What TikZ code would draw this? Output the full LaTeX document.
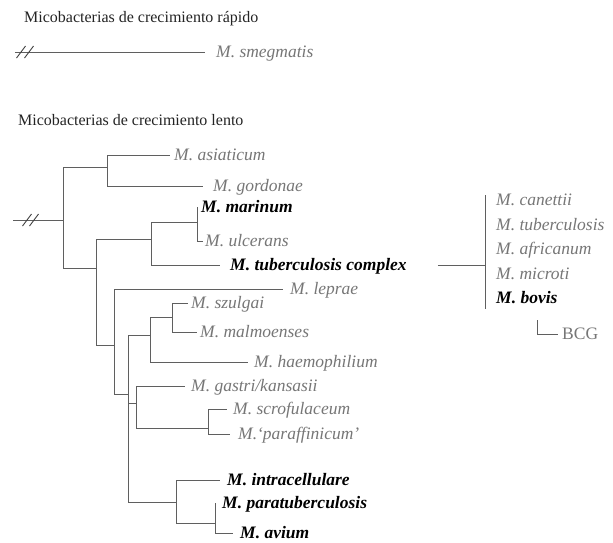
\documentclass[tikz,border=0pt]{standalone}
\usepackage{fontspec}
\setmainfont{Liberation Serif}
\definecolor{LineGray}{RGB}{95,95,95}
\definecolor{LeafGray}{RGB}{118,118,118}
\definecolor{HeadBlack}{RGB}{35,35,35}
\tikzset{
  branch/.style={LineGray, line width=0.9pt},
  leaf/.style={anchor=west, inner sep=0pt, inner xsep=5pt, text height=11.6pt, text depth=0pt,
    font=\fontsize{17.5}{20}\selectfont\itshape, text=LeafGray},
  boldleaf/.style={leaf, font=\fontsize{17.5}{20}\selectfont\bfseries\itshape, text=black},
  heading/.style={anchor=west, inner sep=0pt, text height=10.6pt, text depth=0pt,
    font=\fontsize{16}{19}\selectfont, text=HeadBlack},
}

\begin{document}
\begin{tikzpicture}[x=1pt, y=-1pt]
  \useasboundingbox (0,0) rectangle (613,542);

  % fast growers
  \node[heading] (fast) at (24,17) {Micobacterias de crecimiento rápido};
  \coordinate (fastroot) at (15,52);
  \node[leaf, inner xsep=11pt] (smeg) at (205,52) {M. smegmatis};
  \draw[branch] (fastroot) -- (smeg.west);
  \foreach \cx in {21,29} \draw[branch, black!75] (\cx-4.5,58) -- (\cx+4.5,46);

  % slow growers
  \node[heading] (slow) at (18,120) {Micobacterias de crecimiento lento};
  \coordinate (stub) at (13,220);
  \coordinate (root) at (63,220);
  \coordinate (nA) at (107,167);
  \coordinate (nB) at (96,268);
  \coordinate (nC) at (151,239);
  \coordinate (nD) at (197,222);
  \coordinate (nE) at (114,345);
  \coordinate (nF) at (128,394);
  \coordinate (nG) at (150,335);
  \coordinate (nH) at (172,317);
  \coordinate (nI) at (136,403);
  \coordinate (nJ) at (208,428);
  \coordinate (nK) at (176,502);
  \coordinate (nL) at (215,523);

  \node[leaf, inner xsep=4pt] (asia) at (170,155) {M. asiaticum};
  \node[leaf, inner xsep=10pt] (gord) at (203,186) {M. gordonae};
  \node[boldleaf, inner xsep=4pt] (mari) at (197,207) {M. marinum};
  \node[leaf, inner xsep=2pt] (ulce) at (203,241) {M. ulcerans};
  \node[boldleaf, inner xsep=10pt] (tbc) at (220,265) {M. tuberculosis complex};
  \node[leaf, inner xsep=7pt] (lepr) at (283,289) {M. leprae};
  \node[leaf, inner xsep=3pt] (szul) at (188,303) {M. szulgai};
  \node[leaf, inner xsep=3pt] (malm) at (197,332) {M. malmoenses};
  \node[leaf, inner xsep=6pt] (haem) at (248,362) {M. haemophilium};
  \node[leaf, inner xsep=6pt] (gast) at (185,386) {M. gastri/kansasii};
  \node[leaf, inner xsep=6pt] (scro) at (227,409) {M. scrofulaceum};
  \node[leaf, inner xsep=8pt] (para) at (230,434) {M.‘paraffinicum’};
  \node[boldleaf, inner xsep=7pt] (intr) at (220,480) {M. intracellulare};
  \node[boldleaf, inner xsep=7pt] (ptb) at (215,503) {M. paratuberculosis};
  \node[boldleaf, inner xsep=7pt] (aviu) at (233,533) {M. avium};

  \draw[branch] (stub) -- (root);
  \foreach \cx in {27,34} \draw[branch, black!75] (\cx-4.5,226) -- (\cx+4.5,214);
  \draw[branch] (root) |- (nA) (root) |- (nB);
  \draw[branch] (nA) |- (asia.west) (nA) |- (gord.west);
  \draw[branch] (nB) |- (nC) (nB) |- (nE);
  \draw[branch] (nC) |- (nD) (nC) |- (tbc.west);
  \draw[branch] (nD) |- (mari.west) (nD) |- (ulce.west);
  \draw[branch] (nE) |- (lepr.west) (nE) |- (nF);
  \draw[branch] (nF) |- (nG) (nF) |- (nI) (nF) |- (nK);
  \draw[branch] (nG) |- (nH) (nG) |- (haem.west);
  \draw[branch] (nH) |- (szul.west) (nH) |- (malm.west);
  \draw[branch] (nI) |- (gast.west) (nI) |- (nJ);
  \draw[branch] (nJ) |- (scro.west) (nJ) |- (para.west);
  \draw[branch] (nK) |- (intr.west) (nK) |- (nL);
  \draw[branch] (nL) |- (ptb.west) (nL) |- (aviu.west);

  % members of the complex
  \coordinate (cmid) at (485,265);
  \coordinate (ctop) at (485,195);
  \coordinate (cbot) at (485,309);
  \draw[branch] ([xshift=21pt]tbc.east) -- (cmid);
  \draw[branch] (ctop) -- (cbot);
  \foreach \name/\txt/\yy in {cane/M. canettii/200, tube/M. tuberculosis/224.5,
      afri/M. africanum/249, micr/M. microti/273.5}
    \node[leaf, inner xsep=11pt] (\name) at (485,\yy) {\txt};
  \node[boldleaf, inner xsep=11pt] (bovi) at (485,298) {M. bovis};
  \coordinate (bcgc) at (537,320);
  \node[leaf, font=\fontsize{17.5}{20}\selectfont, inner xsep=4pt] (bcg) at (558,334) {BCG};
  \draw[branch] (bcgc) |- (bcg.west);
\end{tikzpicture}
\end{document}
